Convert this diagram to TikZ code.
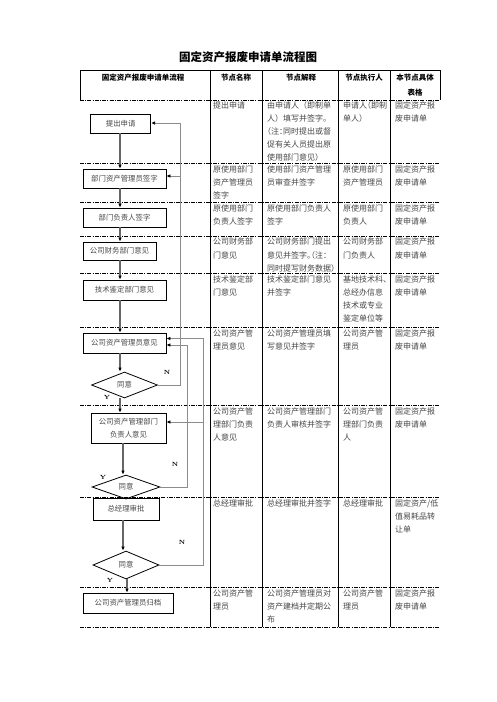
\documentclass[tikz,border=0pt]{standalone}
\usepackage{fontspec}
\usetikzlibrary{shapes.geometric,arrows.meta,calc}
\newfontfamily\cjk{Noto Sans CJK SC}
\newfontfamily\cjkh{Noto Sans CJK SC}[RawFeature=+halt]
\definecolor{txt}{gray}{0.28}
\definecolor{ln}{gray}{0.4}
\definecolor{fbc}{gray}{0.55}
\tikzset{
  ct/.style={anchor=north west, inner sep=0pt, align=left, font=\cjk\fontsize{8}{13.05}\selectfont, text=txt},
  hd/.style={inner sep=0pt, font=\cjk\bfseries\fontsize{7.5}{9}\selectfont},
  box/.style={draw=black, line width=0.8pt, inner sep=0pt, font=\cjk\fontsize{7.4}{13.3}\selectfont, text=txt, align=center},
  dia/.style={diamond, draw=black, line width=0.8pt, inner sep=0pt, font=\cjk\fontsize{7.4}{9}\selectfont, text=txt},
  arr/.style={-{Latex[length=4pt,width=3.6pt,color=black]}},
  mainline/.style={draw=ln, line width=1.1pt},
  fb/.style={draw=fbc, line width=1pt},
  rowline/.style={line width=0.6pt, dash pattern=on 4pt off 1.2pt on 1pt off 1.2pt},
  colline/.style={line width=0.8pt},
  yn/.style={inner sep=0pt, font=\fontsize{6}{6}\selectfont\bfseries}
}
\newcommand\rowcells[6]{%
  \node[ct] (#1b) at (213,#2) {#3};
  \node[ct] (#1c) at (267,#2) {#4};
  \node[ct] (#1d) at (343,#2) {#5};
  \node[ct] (#1e) at (395,#2) {#6};}
\begin{document}
\begin{tikzpicture}[x=1pt,y=-1pt]
\useasboundingbox[fill=white] (0,0) rectangle (496,702);

% title
\node[inner sep=0pt, font=\cjk\bfseries\fontsize{11.5}{12}\selectfont] (title) at (248,57) {固定资产报废申请单流程图};

% table frame
\draw[line width=0.9pt] (80,70) -- (440,70);
\draw[colline] (80,70) -- (80,100);
\draw[colline] (440,70) -- (440,100);
\foreach \cx in {210,262.5,338,390.5} \draw[colline] (\cx,70) -- (\cx,627);
\foreach \ry in {100,163,202,236,273,327,405,497,587,627} \draw[rowline] (80,\ry) -- (440,\ry);

% header
\node[hd] (h1) at (143,78) {固定资产报废申请单流程};
\node[hd] (h2) at (236,78) {节点名称};
\node[hd] (h3) at (301,78) {节点解释};
\node[hd] (h4) at (364,78) {节点执行人};
\node[hd] (h5) at (415,78) {本节点具体};
\node[hd] (h6) at (415,93) {表格};

% cells
\rowcells{ra}{101.5}{提出申请}{由申请人（即制单\\人）填写并签字。\\{\cjkh （注：}同时提出或督\\促有关人员提出原\\使用部门意见）}{{\cjkh 申请人（即制}\\单人）}{固定资产报\\废申请单}
\rowcells{rb}{165.5}{原使用部门\\资产管理员\\签字}{使用部门资产管理\\员审查并签字}{原使用部门\\资产管理员}{固定资产报\\废申请单}
\rowcells{rc}{204.5}{原使用部门\\负责人签字}{原使用部门负责人\\签字}{原使用部门\\负责人}{固定资产报\\废申请单}
\rowcells{rd}{238}{公司财务部\\门意见}{公司财务部门提出\\{\cjkh 意见并签字。（注：}\\{\cjkh 同时提写财务数据）}}{公司财务部\\门负责人}{固定资产报\\废申请单}
\rowcells{re}{275.5}{技术鉴定部\\门意见}{技术鉴定部门意见\\并签字}{{\cjkh 基地技术科、}\\总经办信息\\技术或专业\\鉴定单位等}{固定资产报\\废申请单}
\rowcells{rf}{329.5}{公司资产管\\理员意见}{公司资产管理员填\\写意见并签字}{公司资产管\\理员}{固定资产报\\废申请单}
\rowcells{rg}{407.5}{公司资产管\\理部门负责\\人意见}{公司资产管理部门\\负责人审核并签字}{公司资产管\\理部门负责\\人}{固定资产报\\废申请单}
\rowcells{rh}{499.5}{总经理审批}{总经理审批并签字}{总经理审批}{固定资产/低\\值易耗品转\\让单}
\rowcells{ri}{589.5}{公司资产管\\理员}{公司资产管理员对\\资产建档并定期公\\布}{公司资产管\\理员}{固定资产报\\废申请单}

% flow nodes
\node[box, minimum width=60pt, minimum height=19pt] (n1) at (120.7,123.5) {提出申请};
\node[box, minimum width=83pt, minimum height=19pt] (n2) at (124.5,178.5) {部门资产管理员签字};
\node[box, minimum width=83pt, minimum height=19pt] (n3) at (124.5,217.5) {部门负责人签字};
\node[box, minimum width=73pt, minimum height=18pt] (n4) at (119.5,251) {公司财务部门意见};
\node[box, minimum width=83pt, minimum height=20pt] (n5) at (124.5,290) {技术鉴定部门意见};
\node[box, minimum width=83pt, minimum height=20pt] (n6) at (124.5,343) {公司资产管理员意见};
\node[dia, minimum width=66pt, minimum height=26pt] (d1) at (124.5,385) {同意};
\node[box, minimum width=75pt, minimum height=30pt] (n7) at (128.5,428) {公司资产管理部门\\负责人意见};
\node[dia, minimum width=68pt, minimum height=24pt] (d2) at (126,487) {同意};
\node[box, minimum width=66pt, minimum height=22pt] (n8) at (126,509) {总经理审批};
\node[dia, minimum width=66pt, minimum height=28pt] (d3) at (126,565) {同意};
\node[box, minimum width=90pt, minimum height=20pt] (n9) at (128,603) {公司资产管理员归档};

% spine x positions
\coordinate (sA) at (120,0);
\coordinate (sB) at (123,0);
\coordinate (sC) at (127,0);
\coordinate (fb1) at (180,0);
\coordinate (fb2) at (187.5,0);
\coordinate (fb3) at (203,0);

% main downward arrows
\draw[mainline,arr] (n1.south -| sA) -- (n2.north -| sA);
\draw[mainline,arr] (n2.south -| sA) -- (n3.north -| sA);
\draw[mainline,arr] (n3.south -| sA) -- (n4.north -| sA);
\draw[mainline,arr] (n4.south -| sA) -- (n5.north -| sA);
\draw[mainline,arr] (n5.south -| sA) -- (n6.north -| sA);
\draw[mainline,arr] (n6.south -| sA) -- (d1.north -| sA);
\draw[mainline,arr] (d1.south -| sA) -- (n7.north -| sA);
\draw[mainline,arr] (n7.south -| sB) -- (d2.north -| sB);
\draw[mainline,arr] (n8.south -| sB) -- (d3.north -| sB);
\draw[mainline,arr] (d3.south -| sC) -- (n9.north -| sC);

% feedback lines
\coordinate (n1in) at ([yshift=0.5pt]n1.east);
\coordinate (n2in) at ([yshift=2.5pt]n2.east);
\coordinate (n6a) at ([yshift=4.5pt]n6.east);
\coordinate (n6b) at ([yshift=-2pt]n6.east);
\coordinate (n7in) at ([yshift=6pt]n7.east);
\draw[fb,arr] (d1.east) -| (fb1 |- n1in) -- (n1in);
\draw[fb,arr] (fb1 |- n2in) -- (n2in);
\draw[fb,arr] (d2.east) -| (fb2 |- n6b) -- (n6b);
\draw[fb,arr] (d3.east) -| (fb3 |- n6a) -- (n6a);
\draw[fb,arr] (fb3 |- n7in) -- (n7in);

% Y / N labels
\node[yn] (N1) at (167,372) {N};
\node[yn] (Y1) at (107,397) {Y};
\node[yn] (N2) at (175,464) {N};
\node[yn] (Y2) at (103,477) {Y};
\node[yn] (N3) at (182,542) {N};
\node[yn] (Y3) at (110,580) {Y};
\end{tikzpicture}
\end{document}
